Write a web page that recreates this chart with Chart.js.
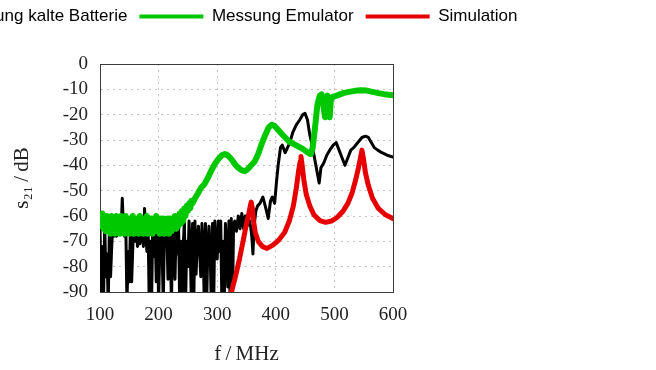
<!DOCTYPE html>
<html>
<head>
<meta charset="utf-8">
<script src="https://cdn.jsdelivr.net/npm/chart.js@4.4.1/dist/chart.umd.min.js"></script>
<style>
    html, body { margin: 0; padding: 0; background: #fff; overflow: hidden; width: 656px; height: 370px; }
    /* canvas is wider than the window: the legend starts off-screen on the left, like the original */
    #wrap { position: absolute; left: -130px; top: -4px; width: 786px; height: 374px; }
</style>
</head>
<body>
<div id="wrap"><canvas id="chart"></canvas></div>
<script>
// Messung kalte Batterie (black)
const blackFreq = [
    100, 102, 104, 106, 108, 110, 112, 114, 116, 118,
    120, 122, 124, 126, 128, 130, 132, 134, 136, 138,
    140, 142, 144, 146, 148, 150, 152, 154, 156, 158,
    160, 162, 164, 166, 168, 170, 172, 174, 176, 178,
    180, 182, 184, 186, 188, 190, 192, 194, 196, 198,
    200, 202, 204, 206, 208, 210, 212, 214, 216, 218,
    220, 222, 224, 226, 228, 230, 232, 234, 236, 238,
    240, 242, 244, 246, 248, 250, 252, 254, 256, 258,
    260, 262, 264, 266, 268, 270, 272, 274, 276, 278,
    280, 282, 284, 286, 288, 290, 292, 294, 296, 298,
    300, 302, 304, 306, 308, 310, 312, 314, 316, 318,
    320, 322, 324, 326, 328,
    330, 333, 336, 339, 342, 345, 348, 351, 354, 357,
    359, 361, 363, 366, 369, 373, 378, 383, 387, 391,
    394, 398, 401, 404, 408, 411, 416, 420, 424, 429,
    435, 441, 446, 450, 454, 458, 462, 466, 470, 474,
    477, 482, 487, 492, 498, 503, 508, 513, 518, 523,
    528, 533, 540, 547, 553, 558, 563, 568, 574, 581,
    590, 600
];
const blackDb = [
    -64, -95, -72, -95, -63, -84, -75, -95, -66, -84,
    -72, -63, -68, -66, -68, -64, -67, -63, -66, -53,
    -64, -68, -63, -95, -74, -86, -63, -86, -72, -64,
    -70, -63, -72, -65, -71, -68, -63, -72, -57, -66,
    -74, -63, -95, -70, -95, -63, -76, -64, -86, -63,
    -95, -72, -66, -74, -95, -64, -70, -66, -85, -63,
    -74, -95, -62, -72, -85, -63, -75, -62, -95, -70,
    -95, -72, -62, -95, -70, -80, -62, -74, -95, -63,
    -95, -62, -83, -70, -64, -74, -84, -63, -72, -95,
    -63, -95, -72, -64, -75, -95, -63, -95, -62, -73,
    -77, -62, -74, -62, -95, -70, -95, -63, -72, -88,
    -62, -95, -61, -95, -63,
    -62, -66, -60, -65, -59, -65, -60, -64, -61, -64,
    -68, -75, -64, -58, -56, -55, -52.5, -57, -61, -54,
    -52.5, -55, -47, -40, -33, -32, -35, -33, -31, -27,
    -24, -22, -20, -19.5, -22, -28, -32, -37, -42, -47,
    -41, -39, -36, -34, -32, -31, -34, -37, -40, -37,
    -34, -33, -31, -29, -28.5, -29, -31, -33, -34, -35,
    -36, -36.7
];

// Messung Emulator (green)
const greenFreq = [
    100, 102, 104, 106, 108, 110, 112, 114, 116, 118,
    120, 122, 124, 126, 128, 130, 132, 134, 136, 138,
    140, 142, 144, 146, 148, 150, 152, 154, 156, 158,
    160, 162, 164, 166, 168, 170, 172, 174, 176, 178,
    180, 182, 184, 186, 188, 190, 192, 194, 196, 198,
    200, 202, 204, 206, 208, 210, 212, 214, 216, 218,
    220, 222, 224, 226, 228, 230, 232, 234, 236, 238,
    240, 242, 244, 246, 248, 250, 252, 254, 256, 258,
    262, 266, 272, 278, 284, 290, 296, 302, 308, 313,
    318, 324, 330, 336, 342, 347, 352, 358, 364, 370,
    376, 382, 388, 393, 398, 404, 410, 416, 422, 430,
    438, 446, 452, 458, 460, 463, 467, 471, 475, 478,
    481, 484, 486, 488, 490, 492, 494, 497, 504, 515,
    525, 535, 545, 555, 565, 575, 585, 600
];
const greenDb = [
    -60, -64, -59, -65, -60, -66, -60, -65, -61, -67,
    -60, -66, -61, -67, -60, -66, -61, -67, -60, -65,
    -61, -67, -60, -66, -61, -67, -61, -65, -60, -67,
    -61, -66, -61, -67, -60, -66, -61, -67, -61, -65,
    -60, -67, -61, -66, -61, -67, -61, -66, -60, -66,
    -61, -67, -61, -66, -61, -67, -62, -66, -61, -67,
    -61, -66, -61, -65, -60, -65, -60, -64, -59, -63,
    -58, -62, -57, -60, -56, -58, -55, -57, -54, -55,
    -53, -51.5, -49, -47.5, -45, -42, -39.5, -37.5, -36, -35.5,
    -36, -37.5, -39.5, -41, -42, -42.3, -41.5, -40, -38.5, -35.5,
    -31.5, -28, -25, -24, -24.5, -26, -27.5, -29, -30.5, -31.5,
    -32.5, -33.5, -34.5, -35.5, -35.5, -33, -25, -16, -12.5, -12,
    -16, -21, -14, -12.5, -15, -21, -14, -13, -12.5, -11.5,
    -11, -10.6, -10.4, -10.5, -11, -11.5, -11.9, -12.3
];

// Simulation (red)
const redFreq = [
    322, 330, 338, 345, 350, 354, 356.5, 358, 360, 362,
    365, 370, 377, 385, 395, 405, 415, 423, 430, 435,
    439, 441.5, 443, 445, 448, 452, 458, 465, 475, 485,
    495, 505, 515, 523, 530, 536, 541, 544.5, 547, 550,
    553, 558, 565, 575, 587, 600
];
const redDb = [
    -92, -85, -77, -69, -63, -59, -56, -54.5, -57, -62,
    -66.5, -70, -72, -72.8, -71.5, -69.5, -66.5, -62, -56, -49,
    -42, -38.5, -36.5, -40, -46, -51.5, -56, -59.5, -61.8, -62.5,
    -62, -60.5, -58, -55, -51, -46, -41, -37, -34, -38,
    -43, -48, -53, -57, -59.5, -61
];

const xTicks = { min: 100, max: 600, step: 100 };
const yTicks = { min: -90, max: 0, step: 10 };

function toPoints(xs, ys) {
    return xs.map((x, i) => ({ x: x, y: ys[i] }));
}

const serif = "'Liberation Serif', 'Times New Roman', serif";
const boxColor = '#3c3c3c';

const ctx = document.getElementById('chart').getContext('2d');
new Chart(ctx, {
    type: 'line',
    data: {
        datasets: [{
            label: 'Messung kalte Batterie',
            data: toPoints(blackFreq, blackDb),
            borderColor: '#000000',
            backgroundColor: '#000000',
            borderWidth: 3,
            order: 3
        }, {
            label: 'Messung Emulator',
            data: toPoints(greenFreq, greenDb),
            borderColor: '#00c800',
            backgroundColor: '#00c800',
            borderWidth: 6,
            order: 2
        }, {
            label: 'Simulation',
            data: toPoints(redFreq, redDb),
            borderColor: '#e60000',
            backgroundColor: '#e60000',
            borderWidth: 5,
            order: 1
        }]
    },
    options: {
        animation: false,
        responsive: true,
        maintainAspectRatio: false,
        elements: {
            point: { radius: 0 },
            line: { tension: 0, borderJoinStyle: 'round', borderCapStyle: 'round' }
        },
        plugins: {
            legend: {
                position: 'top',
                align: 'start',
                labels: {
                    boxWidth: 64,
                    boxHeight: 4,
                    padding: 12,
                    color: '#000',
                    font: { family: "'Liberation Sans', Arial, sans-serif", size: 17 },
                    generateLabels: function (chart) {
                        return chart.data.datasets.map((ds, i) => ({
                            text: ds.label,
                            fillStyle: ds.borderColor,
                            strokeStyle: ds.borderColor,
                            lineWidth: 0,
                            hidden: false,
                            datasetIndex: i
                        }));
                    }
                }
            },
            tooltip: { enabled: false }
        },
        scales: {
            x: {
                type: 'linear',
                position: 'bottom',
                min: xTicks.min,
                max: xTicks.max,
                ticks: { stepSize: xTicks.step, autoSkip: false, padding: 12, maxRotation: 0, color: '#222', font: { family: serif, size: 19 } },
                grid: { color: '#c4c4c4', drawTicks: false },
                border: { display: true, color: boxColor, dash: [2, 4] },
                title: { display: true, text: 'f\u2009/\u2009MHz', color: '#222', font: { family: serif, size: 21 }, padding: { top: 4, bottom: 3 } },
                afterFit: function (scale) { scale.height = 78; }
            },
            y: {
                type: 'linear',
                position: 'left',
                min: yTicks.min,
                max: yTicks.max,
                ticks: { stepSize: yTicks.step, autoSkip: false, padding: 12, color: '#222', font: { family: serif, size: 19 } },
                grid: { color: '#c4c4c4', drawTicks: false },
                border: { display: true, color: boxColor, dash: [2, 4] },
                title: { display: true, text: 's₂₁\u2009/\u2009dB', color: '#222', font: { family: serif, size: 21 }, padding: { top: 139.4, bottom: 0 } },
                afterFit: function (scale) { scale.width = 230; }
            },
            // empty axes: only their borders close the box on top and right
            xTop: {
                type: 'linear',
                position: 'top',
                min: xTicks.min,
                max: xTicks.max,
                ticks: { display: false },
                grid: { display: false, drawTicks: false },
                border: { display: true, color: boxColor },
                afterFit: function (scale) { scale.height = 29; }
            },
            yRight: {
                type: 'linear',
                position: 'right',
                min: yTicks.min,
                max: yTicks.max,
                ticks: { display: false },
                grid: { display: false, drawTicks: false },
                border: { display: true, color: boxColor },
                afterFit: function (scale) { scale.width = 263; }
            }
        }
    }
});
</script>
</body>
</html>
